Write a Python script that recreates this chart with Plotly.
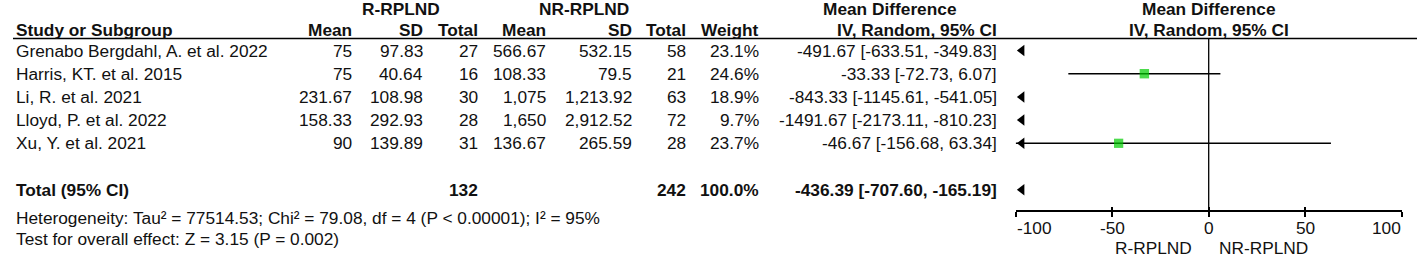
import plotly.graph_objects as go

# ---------------- data ----------------
studies = ["Grenabo Bergdahl, A. et al. 2022", "Harris, KT. et al. 2015",
           "Li, R. et al. 2021", "Lloyd, P. et al. 2022", "Xu, Y. et al. 2021"]
r_mean = [75, 75, 231.67, 158.33, 90]
r_sd = [97.83, 40.64, 108.98, 292.93, 139.89]
r_n = [27, 16, 30, 28, 31]
nr_mean = [566.67, 108.33, 1075, 1650, 136.67]
nr_sd = [532.15, 79.5, 1213.92, 2912.52, 265.59]
nr_n = [58, 21, 63, 72, 28]
weight = [23.1, 24.6, 18.9, 9.7, 23.7]
md = [-491.67, -33.33, -843.33, -1491.67, -46.67]
ci_lo = [-633.51, -72.73, -1145.61, -2173.11, -156.68]
ci_hi = [-349.83, 6.07, -541.05, -810.23, 63.34]

total_label = "Total (95% CI)"
total_r_n = 132
total_nr_n = 242
total_weight = 100.0
total_md = -436.39
total_lo = -707.60
total_hi = -165.19

heterogeneity = "Heterogeneity: Tau² = 77514.53; Chi² = 79.08, df = 4 (P < 0.00001); I² = 95%"
overall = "Test for overall effect: Z = 3.15 (P = 0.002)"

group_labels = ["R-RPLND", "NR-RPLND"]
col_headers = ["Mean", "SD", "Total", "Mean", "SD", "Total", "Weight"]
effect_header = ["Mean Difference", "IV, Random, 95% CI"]
x_ticks = [-100, -50, 0, 50, 100]
favours = ["R-RPLND", "NR-RPLND"]

# ---------------- layout constants ----------------
W, H = 1417, 257
XMIN, XMAX = -100, 100
PLOT_L, PLOT_R = 1015.7, 1401.7
ROW0_PX, ROW_STEP = 50.5, 23.2

FONT = "Liberation Sans, Arial, sans-serif"
FS = 17.3
TXT = "#111111"
GREEN = "#00CC00"


def row_of(px):
    return (px - ROW0_PX) / ROW_STEP


Y_HDR1 = row_of(8.5)
Y_HDR2 = row_of(29.5)
Y_RULE = row_of(38.5)
Y_TOTAL = 6
Y_HET = row_of(218)
Y_TEST = row_of(238.5)
Y_AXIS = row_of(211)
Y_TICKLBL = row_of(228)
Y_FAV = row_of(247.5)

COL_STUDY = 15
COL_RIGHT = [353, 424, 479, 547, 633, 687, 760]
COL_CI = 998
GROUP_CENTER = [401, 584]
EFFECT_CENTER = 890
PLOT_CENTER = (PLOT_L + PLOT_R) / 2

fig = go.Figure()
ann = []


def text(xp, y, s, anchor="left", bold=False, xref="paper"):
    ann.append(dict(
        x=xp / W if xref == "paper" else xp, xref=xref, y=y, yref="y",
        text=f"<b>{s}</b>" if bold else s, showarrow=False,
        xanchor=anchor, yanchor="middle", borderpad=0,
        font=dict(family=FONT, size=FS, color=TXT)))


def fmt(v):
    return f"{v:,}"


# headers
text(GROUP_CENTER[0], Y_HDR1, group_labels[0], "center", True)
text(GROUP_CENTER[1], Y_HDR1, group_labels[1], "center", True)
text(EFFECT_CENTER, Y_HDR1, effect_header[0], "center", True)
text(PLOT_CENTER, Y_HDR1, effect_header[0], "center", True)
text(COL_STUDY, Y_HDR2, "Study or Subgroup", "left", True)
for xr, h in zip(COL_RIGHT, col_headers):
    text(xr, Y_HDR2, h, "right", True)
text(COL_CI, Y_HDR2, effect_header[1], "right", True)
text(PLOT_CENTER, Y_HDR2, effect_header[1], "center", True)

# study rows
for i, s in enumerate(studies):
    vals = [fmt(r_mean[i]), fmt(r_sd[i]), fmt(r_n[i]), fmt(nr_mean[i]),
            fmt(nr_sd[i]), fmt(nr_n[i]), f"{weight[i]:.1f}%"]
    text(COL_STUDY, i, s, "left")
    for xr, v in zip(COL_RIGHT, vals):
        text(xr, i, v, "right")
    text(COL_CI, i, f"{md[i]:.2f} [{ci_lo[i]:.2f}, {ci_hi[i]:.2f}]", "right")

# total row
text(COL_STUDY, Y_TOTAL, total_label, "left", True)
text(COL_RIGHT[2], Y_TOTAL, str(total_r_n), "right", True)
text(COL_RIGHT[5], Y_TOTAL, str(total_nr_n), "right", True)
text(COL_RIGHT[6], Y_TOTAL, f"{total_weight:.1f}%", "right", True)
text(COL_CI, Y_TOTAL, f"{total_md:.2f} [{total_lo:.2f}, {total_hi:.2f}]", "right", True)

text(COL_STUDY, Y_HET, heterogeneity, "left")
text(COL_STUDY, Y_TEST, overall, "left")

# axis tick labels and favours labels
for t in x_ticks:
    a = "left" if t == XMIN else ("right" if t == XMAX else "center")
    text(t, Y_TICKLBL, str(t), a, xref="x")
text(PLOT_CENTER - 16, Y_FAV, favours[0], "right")
text(PLOT_CENTER + 9, Y_FAV, favours[1], "left")

# ---------------- plot marks ----------------
arrow_x = XMIN + 0.016 * (XMAX - XMIN)
lx, ly, ax_, ay_, sx, sy, ss = [], [], [], [], [], [], []
for i in range(len(studies)):
    lo, hi = ci_lo[i], ci_hi[i]
    if hi > XMIN and lo < XMAX:
        lx += [max(lo, XMIN), min(hi, XMAX), None]
        ly += [i, i, None]
    if lo < XMIN:
        ax_.append(arrow_x)
        ay_.append(i)
    if XMIN <= md[i] <= XMAX:
        sx.append(md[i])
        sy.append(i)
        ss.append(1.9 * weight[i] ** 0.5)
if total_hi < XMIN:
    ax_.append(arrow_x)
    ay_.append(Y_TOTAL)

fig.add_trace(go.Scatter(x=lx, y=ly, mode="lines", line=dict(color="black", width=1.5),
                         hoverinfo="skip", showlegend=False))
fig.add_trace(go.Scatter(x=ax_, y=ay_, mode="markers", cliponaxis=False,
                         marker=dict(symbol="triangle-left", size=10, color="black",
                                     line=dict(width=0)),
                         hoverinfo="skip", showlegend=False))
fig.add_trace(go.Scatter(x=sx, y=sy, mode="markers",
                         marker=dict(symbol="square", size=ss, color=GREEN, line=dict(width=0)),
                         hoverinfo="skip", showlegend=False))
# helper trace for second (inside-tick) axis
fig.add_trace(go.Scatter(x=[None], y=[None], xaxis="x2", yaxis="y", showlegend=False,
                         hoverinfo="skip"))

shapes = [
    dict(type="line", xref="paper", yref="y", x0=13 / W, x1=1, y0=Y_RULE, y1=Y_RULE,
         line=dict(color="black", width=1.5)),
    dict(type="line", xref="x", yref="y", x0=0, x1=0, y0=Y_RULE, y1=Y_AXIS,
         line=dict(color="black", width=1.3)),
]

dom = [PLOT_L / W, PLOT_R / W]
pos = 1 - 211 / H
fig.update_layout(
    width=W, height=H, margin=dict(l=0, r=0, t=0, b=0),
    paper_bgcolor="white", plot_bgcolor="white",
    xaxis=dict(domain=dom, range=[XMIN, XMAX], anchor="free", position=pos,
               showline=True, linecolor="black", linewidth=1.5,
               ticks="outside", ticklen=5, tickwidth=1.5, tickcolor="black",
               tickvals=x_ticks, showticklabels=False, showgrid=False, zeroline=False,
               fixedrange=True),
    xaxis2=dict(domain=dom, range=[XMIN, XMAX], anchor="free", position=pos,
                overlaying="x", matches="x", showline=False,
                ticks="inside", ticklen=4, tickwidth=1.5, tickcolor="black",
                tickvals=x_ticks, showticklabels=False, showgrid=False, zeroline=False,
                fixedrange=True),
    yaxis=dict(domain=[0, 1], range=[row_of(H), row_of(0)], visible=False,
               fixedrange=True),
    annotations=ann, shapes=shapes,
)

fig.write_html("out.html", config={"displayModeBar": False},
               post_script="document.body.style.margin='0';")
